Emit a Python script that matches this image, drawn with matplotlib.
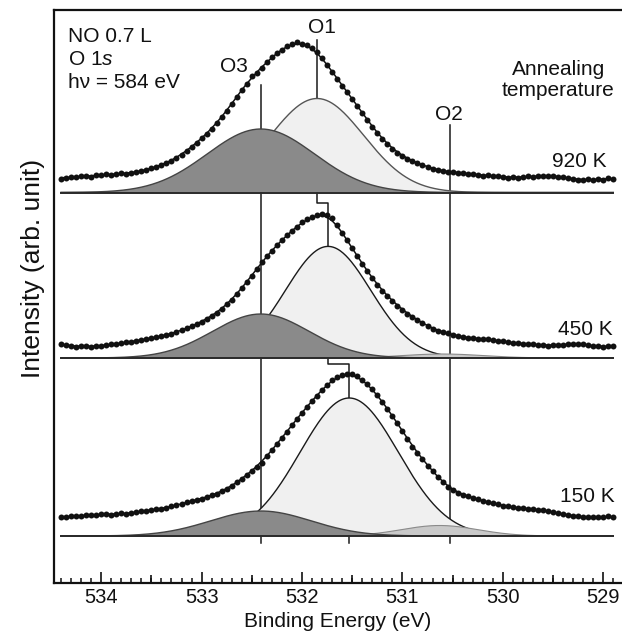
import numpy as np
import matplotlib
matplotlib.use("Agg")
import matplotlib.pyplot as plt
from matplotlib.ticker import MultipleLocator

plt.rcParams['font.family'] = ['Liberation Sans', 'DejaVu Sans']
plt.rcParams['mathtext.fontset'] = 'custom'
plt.rcParams['mathtext.rm'] = 'Liberation Sans'
plt.rcParams['mathtext.it'] = 'Liberation Sans:italic'

# ---------------- data ----------------
be_start = 534.40          # first data point (eV)
be_step = 0.05             # energy step (eV)

temps = ['920 K', '450 K', '150 K']

int_920K = [
    14.0, 14.8, 15.6, 15.2, 16.3, 16.6, 16.0, 17.2, 17.6, 18.1,
    17.5, 18.6, 19.2, 18.8, 19.8, 20.6, 21.4, 22.6, 24.2, 26.0,
    27.2, 29.6, 32.0, 34.8, 38.0, 41.8, 45.6, 49.5, 54.2, 59.0,
    63.6, 69.2, 75.6, 82.0, 88.5, 96.0, 102.5, 109.0, 116.5, 120.0,
    125.0, 130.5, 135.5, 140.0, 143.0, 147.0, 148.5, 150.5, 149.0, 147.8,
    145.0, 140.5, 134.5, 128.0, 121.0, 114.0, 107.0, 100.5, 93.5, 87.0,
    80.0, 72.5, 66.0, 59.5, 53.5, 48.5, 44.0, 40.0, 36.5, 34.0,
    31.5, 29.5, 27.5, 25.5, 24.0, 22.5, 21.5, 21.0, 20.5, 20.0,
    19.5, 19.0, 18.2, 17.8, 17.0, 17.4, 16.8, 16.2, 15.8, 15.0,
    15.4, 14.8, 15.6, 16.2, 15.6, 16.4, 16.8, 17.0, 16.6, 16.0,
    15.4, 14.6, 13.6, 12.8, 12.4, 13.2, 12.6, 13.4, 13.0, 14.4,
    14.0,
]
int_450K = [
    14.0, 12.8, 12.0, 11.4, 11.8, 11.6, 11.2, 12.0, 12.4, 12.8,
    13.6, 14.2, 15.0, 15.6, 16.4, 17.2, 18.0, 19.0, 20.0, 21.0,
    22.0, 23.0, 24.4, 26.0, 27.6, 29.6, 31.6, 34.0, 36.5, 39.0,
    42.0, 45.4, 49.0, 53.6, 58.0, 64.0, 70.0, 76.0, 82.5, 89.0,
    96.0, 102.0, 107.5, 113.0, 118.0, 123.0, 127.5, 131.5, 136.0, 139.0,
    141.0, 143.0, 144.5, 143.5, 140.0, 133.0, 125.0, 118.0, 110.0, 102.0,
    94.0, 87.0, 80.0, 73.0, 67.5, 62.0, 57.0, 52.5, 48.5, 44.5,
    41.0, 38.0, 35.0, 32.0, 29.5, 27.5, 26.0, 25.0, 23.2, 22.0,
    20.8, 20.4, 20.0, 19.4, 19.0, 18.6, 18.0, 17.4, 16.6, 15.8,
    15.2, 14.8, 14.4, 14.0, 13.8, 13.2, 12.8, 12.4, 12.8, 13.2,
    13.4, 13.8, 14.0, 14.2, 13.6, 12.8, 12.0, 11.6, 11.4, 11.8,
    11.6,
]
int_150K = [
    18.6, 19.0, 19.8, 20.2, 19.6, 20.8, 21.4, 20.8, 21.6, 22.2,
    21.4, 22.0, 22.6, 21.8, 23.0, 24.2, 24.6, 25.4, 26.0, 27.2,
    27.0, 28.4, 29.6, 30.6, 32.0, 33.6, 35.0, 36.2, 37.4, 39.0,
    40.6, 42.4, 44.8, 47.2, 50.0, 53.6, 57.0, 61.0, 65.5, 69.5,
    73.5, 80.0, 86.0, 92.0, 98.0, 104.5, 111.0, 117.0, 123.5, 129.5,
    135.5, 140.5, 146.5, 151.5, 156.0, 159.5, 161.5, 162.5, 162.0, 160.0,
    156.5, 152.0, 147.5, 141.0, 134.5, 127.0, 120.5, 113.0, 105.0, 97.5,
    89.5, 83.0, 77.0, 70.5, 65.0, 59.5, 54.0, 49.0, 46.5, 43.5,
    41.5, 40.0, 38.0, 36.8, 35.0, 34.0, 32.6, 31.8, 30.4, 29.6,
    28.6, 28.2, 27.6, 27.2, 26.8, 26.4, 25.6, 25.0, 24.0, 22.8,
    21.8, 21.0, 20.4, 19.6, 19.2, 18.8, 18.6, 18.8, 19.2, 19.6,
    19.2,
]

# fitted components per panel (920 K, 450 K, 150 K): centre (eV), height, sigma (eV)
o1_center = [531.85, 531.74, 531.53]
o1_height = [94.0, 111.6, 138.0]
o1_sigma = [0.465, 0.425, 0.49]
o3_center = [532.41, 532.41, 532.41]
o3_height = [63.5, 44.0, 25.0]
o3_sigma = [0.535, 0.48, 0.50]
o2_center = [530.60, 530.60, 530.63]
o2_height = [0.0, 4.0, 10.5]
o2_sigma = [0.40, 0.40, 0.38]

# marker line positions (eV)
line_O3 = 532.41
line_O2 = 530.53
line_O1 = [531.85, 531.74, 531.53]

# ---------------- layout ----------------
W, H = 622, 637
fig = plt.figure(figsize=(W / 100, H / 100), dpi=100)
ax_l, ax_r, ax_t, ax_b = 54, 622, 10, 583
ax = fig.add_axes([ax_l / W, 1 - ax_b / H, (ax_r - ax_l) / W, (ax_b - ax_t) / H])
x_left, x_right = 534.47, 528.813
ax.set_xlim(x_left, x_right)
ax.set_ylim(0, ax_b - ax_t)

def Y(py):
    return ax_b - py

baselines = [Y(192.5), Y(358.0), Y(536.0)]
spectra = [int_920K, int_450K, int_150K]

def gauss(x, c, h, s):
    return h * np.exp(-(x - c) ** 2 / (2 * s ** 2))

O1_FILL, O3_FILL, O2_FILL = '#f0f0f0', '#8a8a8a', '#c9c9c9'
o1_edge = ['#555555', '#1a1a1a', '#1a1a1a']

for i, vals in enumerate(spectra):
    vals = np.asarray(vals, dtype=float)
    be = be_start - be_step * np.arange(len(vals))
    base = baselines[i]
    xf = np.linspace(be[0], be[-1], 600)
    g1 = gauss(xf, o1_center[i], o1_height[i], o1_sigma[i])
    g3 = gauss(xf, o3_center[i], o3_height[i], o3_sigma[i])
    ax.fill_between(xf, base, base + g1, facecolor=O1_FILL, edgecolor='none', zorder=2)
    ax.plot(xf, base + g1, color=o1_edge[i], lw=1.0, zorder=2.1)
    if o2_height[i] > 0:
        g2 = gauss(xf, o2_center[i], o2_height[i], o2_sigma[i])
        ax.fill_between(xf, base, base + g2, facecolor=O2_FILL, edgecolor='none', zorder=3)
        ax.plot(xf, base + g2, color='#8a8a8a', lw=0.8, zorder=3.1)
    ax.fill_between(xf, base, base + g3, facecolor=O3_FILL, edgecolor='none', zorder=3)
    ax.plot(xf, base + g3, color='#444444', lw=1.0, zorder=3.1)
    # baseline
    ax.plot([be[0], be[-1]], [base, base], color='#2a2a2a', lw=1.4, zorder=4)
    # fit envelope (smoothed trace through the data)
    k = np.ones(5)
    env = np.convolve(vals, k, mode='same') / np.convolve(np.ones_like(vals), k, mode='same')
    ax.plot(be, base + env, color='#111111', lw=1.1, zorder=5)
    # data points
    ax.plot(be, base + vals, 'o', color='#111111', ms=4.3, mew=0, zorder=6)

# vertical marker lines (drawn beneath the fills)
lw_v = 1.1
ax.plot([line_O3, line_O3], [Y(85), Y(543)], color='#1a1a1a', lw=lw_v, zorder=1)
ax.plot([line_O2, line_O2], [Y(125), Y(543)], color='#1a1a1a', lw=lw_v, zorder=1)
ax.plot([line_O1[0], line_O1[0], line_O1[1], line_O1[1], line_O1[2], line_O1[2]],
        [Y(40), Y(203), Y(203), Y(364.3), Y(364.3), Y(543)],
        color='#1a1a1a', lw=lw_v, zorder=1)

# ---------------- axes styling ----------------
for s in ['top', 'left', 'bottom']:
    ax.spines[s].set_linewidth(1.6)
    ax.spines[s].set_color('#111111')
ax.spines['right'].set_visible(False)
ax.set_yticks([])
ax.set_xticks([534, 533, 532, 531, 530, 529])
ax.xaxis.set_minor_locator(MultipleLocator(0.1))
ax.tick_params(axis='x', which='major', direction='in', length=8, width=1.2,
               labelsize=14.5, pad=3.5, colors='#111111')
ax.tick_params(axis='x', which='minor', direction='in', length=3.6, width=1.1,
               colors='#111111')
sec = ax.secondary_xaxis('bottom')
sec.set_xticks([533.5, 532.5, 531.5, 530.5, 529.5])
sec.set_xticklabels([])
sec.tick_params(direction='in', length=5.8, width=1.2, colors='#111111')
sec.xaxis.set_minor_locator(plt.NullLocator())
sec.spines['bottom'].set_visible(False)

ax.set_xlabel('Binding Energy (eV)', fontsize=15, labelpad=4, color='#111111')

# ---------------- texts ----------------
def ftext(px, py, s, **kw):
    fig.text(px / W, 1 - py / H, s, color='#111111', **kw)

FS = 15
ftext(68, 42, 'NO 0.7 L', fontsize=FS, ha='left', va='baseline')
ftext(68, 65, 'O 1$\\mathit{s}$', fontsize=FS, ha='left', va='baseline')
ftext(68, 88.5, 'h\u03bd = 584 eV', fontsize=FS, ha='left', va='baseline')
ftext(234, 72, 'O3', fontsize=FS, ha='center', va='baseline')
ftext(321.7, 33, 'O1', fontsize=FS, ha='center', va='baseline')
ftext(449, 120, 'O2', fontsize=FS, ha='center', va='baseline')
ftext(558.5, 75, 'Annealing', fontsize=FS, ha='center', va='baseline')
ftext(558, 96, 'temperature', fontsize=FS, ha='center', va='baseline')
ftext(607, 167, temps[0], fontsize=FS, ha='right', va='baseline')
ftext(613, 335, temps[1], fontsize=FS, ha='right', va='baseline')
ftext(615, 502, temps[2], fontsize=FS, ha='right', va='baseline')
ftext(33, 268, 'Intensity (arb. unit)', fontsize=19, ha='center', va='center',
      rotation=90)

fig.savefig('out.png', dpi=100, facecolor='white')
